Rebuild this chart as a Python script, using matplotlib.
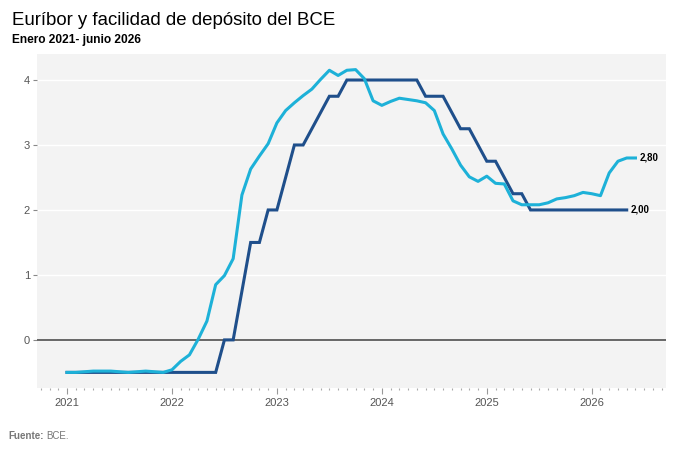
import numpy as np
import matplotlib.pyplot as plt
from matplotlib.ticker import MultipleLocator

plt.rcParams['font.family'] = ['Liberation Sans', 'DejaVu Sans']

# Euríbor a 12 meses, media mensual (ene 2021 - jun 2026)
euribor = [
    -0.50, -0.50, -0.49, -0.48, -0.48, -0.48, -0.49, -0.50, -0.49, -0.48, -0.49, -0.50,
    -0.46, -0.33, -0.23, 0.01, 0.29, 0.85, 0.99, 1.25, 2.23, 2.63, 2.83, 3.02,
    3.34, 3.53, 3.65, 3.76, 3.86, 4.01, 4.15, 4.07, 4.15, 4.16, 4.02, 3.68,
    3.61, 3.67, 3.72, 3.70, 3.68, 3.65, 3.53, 3.17, 2.94, 2.69, 2.51, 2.44,
    2.52, 2.41, 2.40, 2.14, 2.08, 2.08, 2.08, 2.11, 2.17, 2.19, 2.22, 2.27,
    2.25, 2.22, 2.57, 2.75, 2.80, 2.80,
]

# Facilidad de depósito del BCE (ene 2021 - may 2026)
deposito = [
    -0.5, -0.5, -0.5, -0.5, -0.5, -0.5, -0.5, -0.5, -0.5, -0.5, -0.5, -0.5,
    -0.5, -0.5, -0.5, -0.5, -0.5, -0.5, 0.0, 0.0, 0.75, 1.5, 1.5, 2.0,
    2.0, 2.5, 3.0, 3.0, 3.25, 3.5, 3.75, 3.75, 4.0, 4.0, 4.0, 4.0,
    4.0, 4.0, 4.0, 4.0, 4.0, 3.75, 3.75, 3.75, 3.5, 3.25, 3.25, 3.0,
    2.75, 2.75, 2.5, 2.25, 2.25, 2.0, 2.0, 2.0, 2.0, 2.0, 2.0, 2.0,
    2.0, 2.0, 2.0, 2.0, 2.0,
]

years = [2021, 2022, 2023, 2024, 2025, 2026]
t_eur = 2021 + np.arange(len(euribor)) / 12
t_dep = 2021 + np.arange(len(deposito)) / 12

c_eur = '#1db1d8'
c_dep = '#1f4f8b'

fig = plt.figure(figsize=(6.8, 4.54), dpi=100)
ax = fig.add_axes([0.0544, 0.1454, 0.9246, 0.7356])
ax.set_facecolor('#f3f3f3')

ax.axhline(0, color='#666666', lw=1.4, zorder=2)
ax.plot(t_dep, deposito, color=c_dep, lw=2.2, solid_joinstyle='miter', zorder=3)
ax.plot(t_eur, euribor, color=c_eur, lw=2.2, zorder=4)

# etiquetas finales
ax.annotate('2,80', (t_eur[-1], euribor[-1]), xytext=(3, 0), textcoords='offset points',
            ha='left', va='center', fontsize=7, fontweight='bold')
ax.annotate('2,00', (t_dep[-1], deposito[-1]), xytext=(3, 0), textcoords='offset points',
            ha='left', va='center', fontsize=7, fontweight='bold')

ax.set_xlim(2020.714, 2026.705)
ax.set_ylim(-0.74, 4.40)
ax.set_xticks(years)
ax.set_xticklabels([str(y) for y in years])
ax.xaxis.set_minor_locator(MultipleLocator(1 / 12))
ax.set_yticks([0, 1, 2, 3, 4])
ax.grid(axis='y', color='white', lw=1)
ax.set_axisbelow(True)
for s in ax.spines.values():
    s.set_visible(False)
ax.tick_params(axis='y', length=3, width=0.8, color='#888888', labelcolor='#555555',
               labelsize=8, pad=2)
ax.tick_params(axis='x', which='major', length=4, width=0.8, color='#999999',
               labelcolor='#555555', labelsize=8, pad=3)
ax.tick_params(axis='x', which='minor', length=1.5, width=0.8, color='#aaaaaa')

fig.text(0.018, 0.955, 'Euríbor y facilidad de depósito del BCE', fontsize=13.4,
         ha='left', va='center')
fig.text(0.018, 0.912, 'Enero 2021- junio 2026', fontsize=8.6, fontweight='bold',
         ha='left', va='center')
src = fig.text(0.012, 0.040, 'Fuente:', fontsize=7, fontweight='bold', color='#777777',
               ha='left', va='center')
fig.canvas.draw()
fig.add_artist(plt.Annotation('BCE.', xy=(1, 0.5), xycoords=src, xytext=(2, 0),
                              textcoords='offset points', fontsize=7, color='#777777',
                              ha='left', va='center'))

fig.savefig('out.png', dpi=100)
